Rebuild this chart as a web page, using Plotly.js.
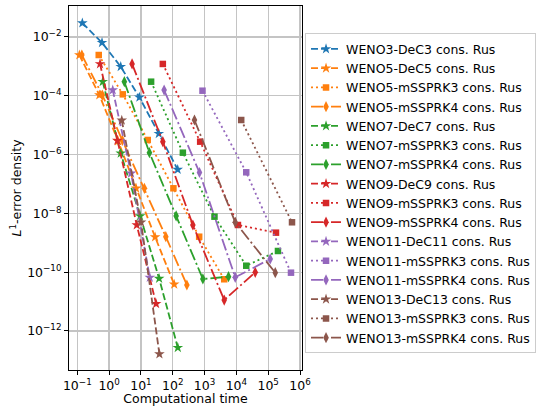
<!DOCTYPE html>
<html><head><meta charset="utf-8">
<script src="https://cdn.plot.ly/plotly-3.0.1.min.js"></script>
<style>html,body{margin:0;padding:0;background:#fff}#chart{width:539px;height:406px}</style>
</head><body><div id="chart"></div>
<script>
// ---- data (computational time, L1-error density) ----
const weno3DeC3Time = [0.144, 0.598, 2.32, 8.95, 36.5, 143];
const weno3DeC3Err  = [2.99e-2, 6.40e-3, 9.77e-4, 8.89e-5, 5.14e-6, 3.11e-7];

const weno5DeC5Time = [0.116, 0.493, 1.91, 7.05, 27.9, 111];
const weno5DeC5Err  = [2.44e-3, 1.06e-4, 2.90e-6, 7.14e-8, 1.57e-9, 3.87e-11];
const weno5Rk3Time  = [0.472, 2.69, 16.4, 105, 677, 4150];
const weno5Rk3Err   = [2.44e-3, 1.12e-4, 3.14e-6, 7.14e-8, 1.61e-9, 5.74e-11];
const weno5Rk4Time  = [0.139, 0.612, 2.61, 12.85, 60.5, 278];
const weno5Rk4Err   = [2.44e-3, 1.06e-4, 3.06e-6, 7.14e-8, 1.61e-9, 3.67e-11];

const weno7DeC7Time = [0.630, 2.32, 9.41, 37.3, 144.5];
const weno7DeC7Err  = [3.02e-4, 1.11e-6, 8.17e-9, 6.11e-11, 2.70e-13];
const weno7Rk3Time  = [20.9, 208, 2051, 20400, 203000];
const weno7Rk3Err   = [3.02e-4, 1.16e-6, 7.73e-9, 1.66e-10, 5.26e-10];
const weno7Rk4Time  = [3.01, 18.5, 128, 885, 5660];
const weno7Rk4Err   = [3.02e-4, 1.16e-6, 8.17e-9, 5.88e-11, 7.03e-11];

const weno9DeC9Time = [0.518, 1.815, 7.41, 30.0];
const weno9DeC9Err  = [1.21e-3, 3.02e-6, 4.03e-9, 8.41e-12];
const weno9Rk3Time  = [48.8, 728, 11200, 176000];
const weno9Rk3Err   = [1.21e-3, 2.75e-6, 4.03e-9, 2.21e-9];
const weno9Rk4Time  = [5.27, 48.8, 429, 4150, 39200];
const weno9Rk4Err   = [1.21e-3, 2.75e-6, 4.03e-9, 1.13e-11, 9.93e-11];

const weno11DeC11Time = [1.30, 4.90, 19.0];
const weno11DeC11Err  = [1.57e-4, 2.31e-7, 6.61e-11];
const weno11Rk3Time   = [861, 20400, 521000];
const weno11Rk3Err    = [1.49e-4, 2.50e-7, 9.62e-11];
const weno11Rk4Time   = [53.6, 692, 9200, 116000];
const weno11Rk4Err    = [1.57e-4, 2.46e-7, 6.71e-11, 2.81e-10];

const weno13DeC13Time = [2.50, 10.1, 38.1];
const weno13DeC13Err  = [1.47e-5, 4.98e-9, 1.65e-13];
const weno13Rk3Time   = [14200, 561000];
const weno13Rk3Err    = [1.50e-5, 4.98e-9];
const weno13Rk4Time   = [482, 9200, 167000];
const weno13Rk4Err    = [1.50e-5, 4.98e-9, 9.62e-11];

const seriesNames = [
  'WENO3-DeC3 cons. Rus',
  'WENO5-DeC5 cons. Rus', 'WENO5-mSSPRK3 cons. Rus', 'WENO5-mSSPRK4 cons. Rus',
  'WENO7-DeC7 cons. Rus', 'WENO7-mSSPRK3 cons. Rus', 'WENO7-mSSPRK4 cons. Rus',
  'WENO9-DeC9 cons. Rus', 'WENO9-mSSPRK3 cons. Rus', 'WENO9-mSSPRK4 cons. Rus',
  'WENO11-DeC11 cons. Rus', 'WENO11-mSSPRK3 cons. Rus', 'WENO11-mSSPRK4 cons. Rus',
  'WENO13-DeC13 cons. Rus', 'WENO13-mSSPRK3 cons. Rus', 'WENO13-mSSPRK4 cons. Rus'
];
const seriesTimes = [weno3DeC3Time, weno5DeC5Time, weno5Rk3Time, weno5Rk4Time,
  weno7DeC7Time, weno7Rk3Time, weno7Rk4Time, weno9DeC9Time, weno9Rk3Time, weno9Rk4Time,
  weno11DeC11Time, weno11Rk3Time, weno11Rk4Time, weno13DeC13Time, weno13Rk3Time, weno13Rk4Time];
const seriesErrs = [weno3DeC3Err, weno5DeC5Err, weno5Rk3Err, weno5Rk4Err,
  weno7DeC7Err, weno7Rk3Err, weno7Rk4Err, weno9DeC9Err, weno9Rk3Err, weno9Rk4Err,
  weno11DeC11Err, weno11Rk3Err, weno11Rk4Err, weno13DeC13Err, weno13Rk3Err, weno13Rk4Err];
const seriesKinds = ['dec','dec','rk3','rk4','dec','rk3','rk4','dec','rk3','rk4','dec','rk3','rk4','dec','rk3','rk4'];
const seriesColorIdx = [0,1,1,1,2,2,2,3,3,3,4,4,4,5,5,5];

const xTickVals = [0.1, 1, 10, 100, 1000, 1e4, 1e5, 1e6];
const xTickText = ['10<sup>−1</sup>','10<sup>0</sup>','10<sup>1</sup>','10<sup>2</sup>','10<sup>3</sup>','10<sup>4</sup>','10<sup>5</sup>','10<sup>6</sup>'];
const yTickVals = [1e-2, 1e-4, 1e-6, 1e-8, 1e-10, 1e-12];
const yTickText = ['10<sup>−2</sup>','10<sup>−4</sup>','10<sup>−6</sup>','10<sup>−8</sup>','10<sup>−10</sup>','10<sup>−12</sup>'];

// ---- styles ----
const palette = ['#1f77b4','#ff7f0e','#2ca02c','#d62728','#9467bd','#8c564b'];
const kindStyle = {
  dec: {dash: '7px,3px', symbol: 'star', size: 8},
  rk3: {dash: '2px,3px', symbol: 'square', size: 6.5},
  rk4: {dash: '12px,3px,2px,3px', symbol: 'diamond-tall', size: 8}
};

const traces = seriesNames.map((name, i) => {
  const st = kindStyle[seriesKinds[i]];
  const c = palette[seriesColorIdx[i]];
  return {
    type: 'scatter', mode: 'lines+markers', name: name,
    x: seriesTimes[i], y: seriesErrs[i],
    line: {color: c, width: 1.8, dash: st.dash},
    marker: {color: c, symbol: st.symbol, size: st.size, line: {width: 0}}
  };
});

const font = {family: 'DejaVu Sans', size: 12.5, color: '#000'};
const layout = {
  width: 539, height: 406,
  margin: {l: 69, r: 237, t: 6, b: 36, autoexpand: false},
  paper_bgcolor: '#fff', plot_bgcolor: '#fff',
  font: font,
  showlegend: true,
  legend: {
    x: 1.013, xanchor: 'left', y: 0.925, yanchor: 'top',
    bgcolor: '#fff', bordercolor: '#cccccc', borderwidth: 1,
    font: {family: 'DejaVu Sans', size: 12.5, color: '#000'},
    itemwidth: 30
  },
  xaxis: {
    type: 'log', range: [-1.261, 6.063],
    tickmode: 'array', tickvals: xTickVals, ticktext: xTickText,
    ticks: 'outside', ticklen: 4, tickwidth: 1, tickcolor: '#000',
    showline: true, linecolor: '#000', linewidth: 1, mirror: true,
    showgrid: true, gridcolor: '#c4c4c4', gridwidth: 1.3,
    zeroline: false, tickfont: font,
    title: {text: 'Computational time', font: font, standoff: 3}
  },
  yaxis: {
    type: 'log', range: [-13.327, -0.946],
    tickmode: 'array', tickvals: yTickVals, ticktext: yTickText,
    ticks: 'outside', ticklen: 4, tickwidth: 1, tickcolor: '#000',
    showline: true, linecolor: '#000', linewidth: 1, mirror: true,
    showgrid: true, gridcolor: '#c4c4c4', gridwidth: 1.3,
    zeroline: false, tickfont: font,
    title: {text: '<i>L</i><sup>1</sup>-error density', font: font, standoff: 2}
  }
};

Plotly.newPlot('chart', traces, layout, {staticPlot: true, displayModeBar: false});
</script>
</body></html>
